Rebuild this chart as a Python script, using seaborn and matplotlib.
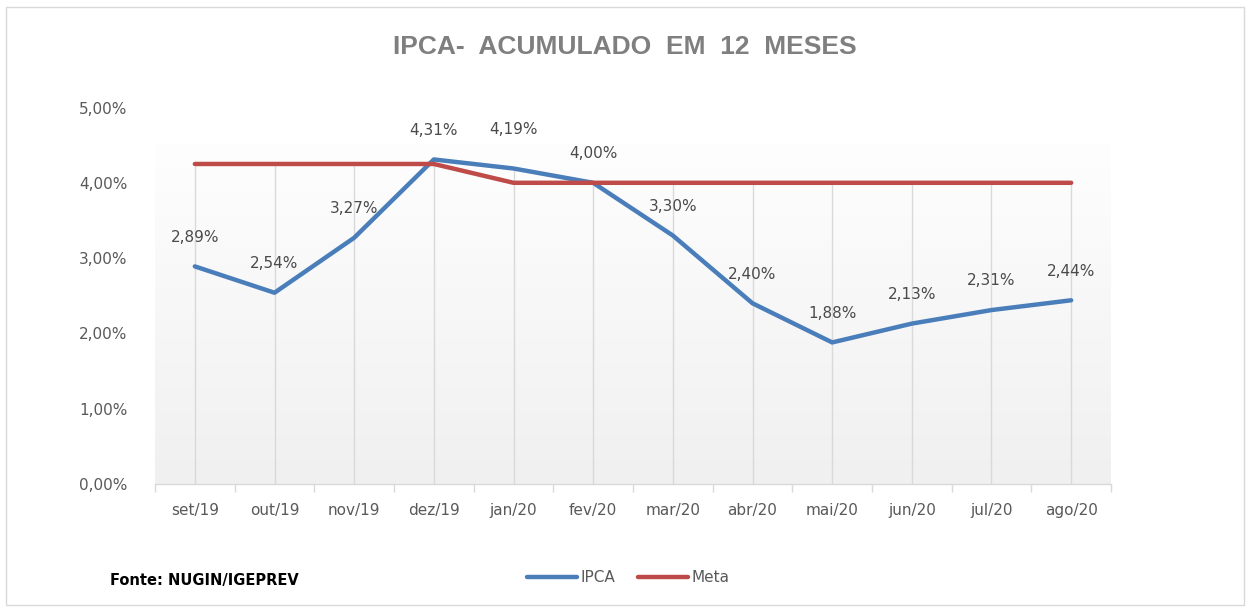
import numpy as np
import pandas as pd
import matplotlib
matplotlib.use("Agg")
import matplotlib.pyplot as plt
from matplotlib.patches import Rectangle
from matplotlib.lines import Line2D
from matplotlib.colors import LinearSegmentedColormap
from matplotlib.ticker import FuncFormatter, FixedLocator
import seaborn as sns

# ---- data ----
months = ["set/19", "out/19", "nov/19", "dez/19", "jan/20", "fev/20",
          "mar/20", "abr/20", "mai/20", "jun/20", "jul/20", "ago/20"]
ipca = [2.89, 2.54, 3.27, 4.31, 4.19, 4.00, 3.30, 2.40, 1.88, 2.13, 2.31, 2.44]
meta = [4.25, 4.25, 4.25, 4.25, 4.00, 4.00, 4.00, 4.00, 4.00, 4.00, 4.00, 4.00]
series_names = ["IPCA", "Meta"]
y_ticks = [0, 1, 2, 3, 4, 5]
title = "IPCA-  ACUMULADO  EM  12  MESES"
source = "Fonte: NUGIN/IGEPREV"

sns.set_theme(style="white")
plt.rcParams["font.family"] = ["DejaVu Sans"]

df = pd.DataFrame({
    "x": list(range(len(months))) * 2,
    "valor": ipca + meta,
    "serie": [series_names[0]] * len(months) + [series_names[1]] * len(months),
})

fig = plt.figure(figsize=(12.47, 6.10), dpi=100)
fig.patch.set_facecolor("white")
ax = fig.add_axes([155 / 1247, 1 - 484 / 610, (1111 - 155) / 1247, (484 - 107.5) / 610])

ax.set_xlim(-0.5, len(months) - 0.5)
ax.set_ylim(0, 5)

# gradient plot-area background (inner plot rectangle)
grad = np.linspace(0, 1, 256).reshape(-1, 1)
cmap = LinearSegmentedColormap.from_list("g", ["#fefefe", "#f0f0f0"])
ax.imshow(grad, extent=[-0.5, len(months) - 0.5, 0, (484 - 143) / 75.3],
          aspect="auto", cmap=cmap, origin="upper", zorder=0)

# drop lines from the highest series value down to the axis
tops = [max(a, b) for a, b in zip(ipca, meta)]
ax.vlines(range(len(months)), 0, tops, color="#d9d9d9", linewidth=1, zorder=1)

palette = {"IPCA": "#4a7ebb", "Meta": "#be4b48"}
sns.lineplot(data=df, x="x", y="valor", hue="serie", hue_order=["IPCA", "Meta"],
             palette=palette, linewidth=3.2, ax=ax, legend=False,
             solid_capstyle="round", zorder=3)
meta_rgb = matplotlib.colors.to_rgb(palette["Meta"])
for line in ax.lines:
    if matplotlib.colors.to_rgb(line.get_color()) == meta_rgb:
        line.set_zorder(4)

ax.set_xlim(-0.5, len(months) - 0.5)
ax.set_ylim(0, 5)
ax.set_xlabel("")
ax.set_ylabel("")

ax.set_xticks(range(len(months)))
ax.set_xticklabels(months)
ax.xaxis.set_minor_locator(FixedLocator(np.arange(-0.5, len(months), 1.0)))
ax.tick_params(axis="x", which="major", length=0, pad=14, labelsize=11, labelcolor="#595959")
ax.tick_params(axis="x", which="minor", length=6, width=1, color="#d9d9d9", direction="out")
ax.xaxis.set_ticks_position("bottom")

ax.set_yticks(y_ticks)
ax.yaxis.set_major_formatter(FuncFormatter(lambda v, p: f"{v:.2f}%".replace(".", ",")))
ax.tick_params(axis="y", length=0, pad=20, labelsize=11, labelcolor="#595959")

for s in ["top", "right", "left"]:
    ax.spines[s].set_visible(False)
ax.spines["bottom"].set_color("#d9d9d9")
ax.spines["bottom"].set_linewidth(1)
ax.grid(False)

# data labels
extra = {4: 7}
for i, v in enumerate(ipca):
    ax.annotate(f"{v:.2f}%".replace(".", ","), (i, v), xytext=(0, 21 + extra.get(i, 0)),
                textcoords="offset points", ha="center", va="center",
                fontsize=11, color="#4a4a4a", zorder=5)

fig.text(625 / 1247, 1 - 47 / 610, title, ha="center", va="center",
         fontsize=19, fontweight="bold", color="#7f7f7f",
         family=["Liberation Sans", "DejaVu Sans"])

fig.text(110 / 1247, 1 - 580 / 610, source, ha="left", va="center",
         fontsize=10.5, fontweight="bold", color="#000000")

handles = [Line2D([], [], color=palette[n], linewidth=3.2, solid_capstyle="round") for n in series_names]
leg = fig.legend(handles, series_names, loc="center", bbox_to_anchor=(628 / 1247, 1 - 578 / 610),
                 ncol=2, frameon=False, fontsize=11, handlelength=3.3, handletextpad=0.2,
                 columnspacing=1.5)
for t in leg.get_texts():
    t.set_color("#595959")

fig.add_artist(Rectangle((6 / 1247, 5 / 610), 1238 / 1247, 598 / 610,
                         transform=fig.transFigure, fill=False,
                         edgecolor="#d9d9d9", linewidth=1))

fig.savefig("out.png", dpi=100)
